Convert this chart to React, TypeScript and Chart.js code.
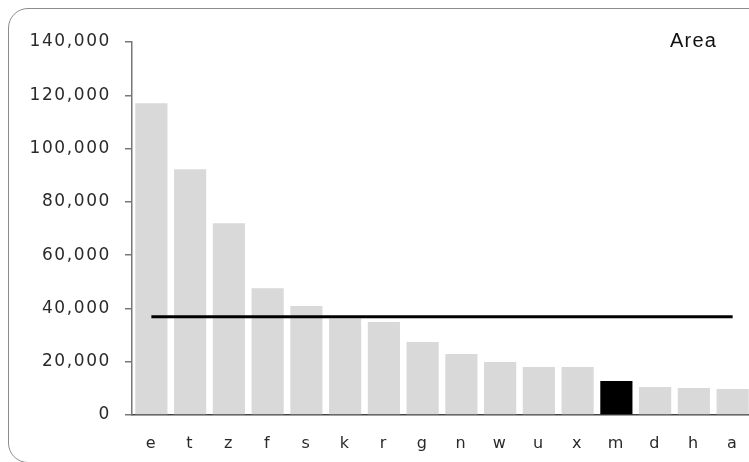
import React, { useEffect, useRef } from "react";
import { Chart, registerables } from "chart.js";

Chart.register(...registerables);

const categories = ["e", "t", "z", "f", "s", "k", "r", "g", "n", "w", "u", "x", "m", "d", "h", "a"];
const areaValues = [117000, 92250, 72000, 47600, 40900, 36250, 34900, 27400, 22900, 19900, 18000, 18000, 12750, 10500, 10100, 9750];
const averageValues = [36900, 36900, 36900, 36900, 36900, 36900, 36900, 36900, 36900, 36900, 36900, 36900, 36900, 36900, 36900, 36900];
const highlighted = "m";
const yTicks = [0, 20000, 40000, 60000, 80000, 100000, 120000, 140000];
const legendLabel = "Area";

export default function App() {
  const ref = useRef<HTMLCanvasElement | null>(null);

  useEffect(() => {
    if (!ref.current) return;
    const spacing = {
      id: "spacing",
      beforeDraw(chart: any) {
        chart.ctx.letterSpacing = "1.6px";
      },
    };
    const chart = new Chart(ref.current, {
      type: "bar",
      data: {
        labels: categories,
        datasets: [
          {
            type: "line",
            label: "Average",
            data: averageValues,
            borderColor: "#000",
            backgroundColor: "#000",
            borderWidth: 3,
            pointRadius: 0,
            order: 0,
          } as any,
          {
            type: "bar",
            label: legendLabel,
            data: areaValues,
            backgroundColor: categories.map((c) => (c === highlighted ? "#000000" : "#d9d9d9")),
            categoryPercentage: 1,
            barPercentage: 0.83,
            order: 1,
          },
        ],
      },
      options: {
        responsive: false,
        animation: false,
        layout: { padding: { left: 0, right: 16, top: 34, bottom: 0 } },
        plugins: {
          legend: { display: false },
          tooltip: { enabled: false },
        },
        scales: {
          x: {
            grid: { display: false, drawTicks: false },
            border: { display: true, color: "#444", width: 1.5 },
            ticks: {
              color: "#2a2a2a",
              padding: 19,
              font: { family: "DejaVu Sans", size: 16 },
            },
            afterFit: (scale: any) => {
              scale.height = 47;
            },
          },
          y: {
            min: 0,
            max: 140000,
            afterBuildTicks: (scale: any) => {
              scale.ticks = yTicks.map((v) => ({ value: v }));
            },
            grid: { drawOnChartArea: false, drawTicks: true, tickLength: 7, color: "#777", lineWidth: 1.5 },
            border: { display: true, color: "#777", width: 1.5 },
            ticks: {
              color: "#2a2a2a",
              padding: 14,
              font: { family: "DejaVu Sans", size: 17 },
              callback: (v: any) => Number(v).toLocaleString("en-US"),
            },
            afterFit: (scale: any) => {
              scale.width = 124;
            },
          },
        },
      },
      plugins: [spacing],
    });
    return () => chart.destroy();
  }, []);

  return (
    <div style={{ position: "fixed", left: 0, top: 0, width: 749, height: 462, overflow: "hidden" }}>
      <div
        style={{
          position: "absolute",
          left: 8,
          top: 8,
          width: 770,
          height: 455,
          boxSizing: "border-box",
          border: "1px solid #8c8c8c",
          borderRadius: 20,
        }}
      />
      <canvas ref={ref} width={760} height={454} style={{ position: "absolute", left: 8, top: 8 }} />
      <div
        style={{
          position: "absolute",
          left: 670,
          top: 30,
          fontFamily: "'Liberation Sans', Arial, sans-serif",
          fontSize: 20,
          lineHeight: "20px",
          letterSpacing: "1.2px",
          color: "#111",
        }}
      >
        {legendLabel}
      </div>
    </div>
  );
}
